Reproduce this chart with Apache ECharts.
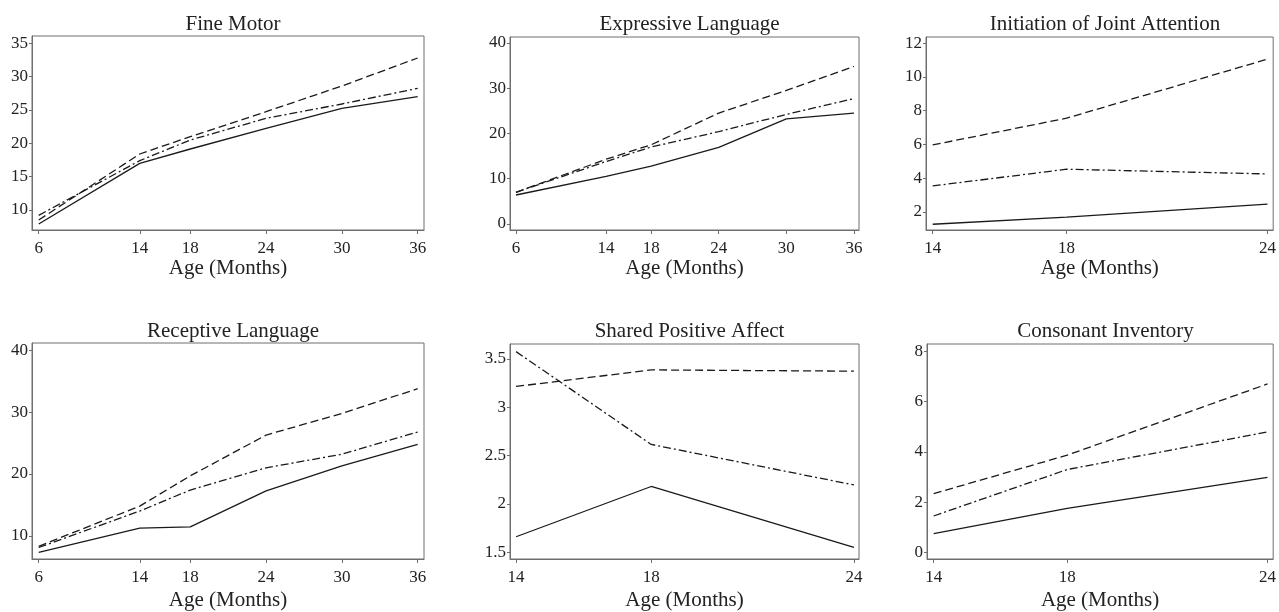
<!DOCTYPE html>
<html><head><meta charset="utf-8">
<script src="https://cdn.jsdelivr.net/npm/echarts@6/dist/echarts.min.js"></script>
<style>html,body{margin:0;padding:0;background:#fff}#c{width:1279px;height:612px}</style>
</head><body><div id="c"></div>
<script>
var agesLong = [6, 14, 18, 24, 30, 36];
var agesShort = [14, 18, 24];

var titles = ['Fine Motor', 'Expressive Language', 'Initiation of Joint Attention',
              'Receptive Language', 'Shared Positive Affect', 'Consonant Inventory'];

var fineSolid   = [7.9, 17.0, 19.15, 22.25, 25.25, 27.0];
var fineDashed  = [8.5, 18.4, 21.0, 24.75, 28.6, 32.8];
var fineDashDot = [9.2, 17.4, 20.5, 23.75, 25.9, 28.25];

var exprSolid   = [6.4, 10.5, 12.8, 16.9, 23.2, 24.5];
var exprDashed  = [7.0, 14.3, 17.5, 24.5, 29.5, 34.8];
var exprDashDot = [7.0, 13.8, 17.0, 20.4, 24.2, 27.7];

var ijaSolid   = [1.27, 1.69, 2.46];
var ijaDashed  = [5.97, 7.55, 11.05];
var ijaDashDot = [3.54, 4.53, 4.25];

var recSolid   = [7.3, 11.24, 11.45, 17.26, 21.3, 24.8];
var recDashed  = [8.3, 14.8, 19.7, 26.3, 29.8, 33.8];
var recDashDot = [8.1, 14.0, 17.4, 21.0, 23.2, 26.8];

var spaSolid   = [1.66, 2.18, 1.55];
var spaDashed  = [3.215, 3.386, 3.373];
var spaDashDot = [3.575, 2.615, 2.196];

var ciSolid   = [0.75, 1.75, 2.99];
var ciDashed  = [2.34, 3.87, 6.7];
var ciDashDot = [1.45, 3.3, 4.79];

var yTicks = [
  [10, 15, 20, 25, 30, 35],
  [0, 10, 20, 30, 40],
  [2, 4, 6, 8, 10, 12],
  [10, 20, 30, 40],
  [1.5, 2, 2.5, 3, 3.5],
  [0, 2, 4, 6, 8]
];

var panels = [
  {x: agesLong,  s: fineSolid, d: fineDashed, dd: fineDashDot},
  {x: agesLong,  s: exprSolid, d: exprDashed, dd: exprDashDot},
  {x: agesShort, s: ijaSolid,  d: ijaDashed,  dd: ijaDashDot},
  {x: agesLong,  s: recSolid,  d: recDashed,  dd: recDashDot},
  {x: agesShort, s: spaSolid,  d: spaDashed,  dd: spaDashDot},
  {x: agesShort, s: ciSolid,   d: ciDashed,   dd: ciDashDot}
];

// layout (pixels) and axis extents
var layout = [
  {left: 32,  top: 36,  width: 392, height: 194, xr: [5.47, 36.5],  yr: [7, 36.1]},
  {left: 510, top: 37,  width: 349, height: 193, xr: [5.47, 36.45], yr: [-1.33, 41.3]},
  {left: 926, top: 37,  width: 348, height: 193, xr: [13.8, 24.17], yr: [0.93, 12.36]},
  {left: 32,  top: 343, width: 392, height: 217, xr: [5.47, 36.5],  yr: [6.24, 41.2]},
  {left: 510, top: 344, width: 349, height: 216, xr: [13.82, 24.15], yr: [1.43, 3.654]},
  {left: 927, top: 344, width: 347, height: 216, xr: [13.8, 24.17], yr: [-0.26, 8.29]}
];

var FONT = '"Liberation Serif", "DejaVu Serif", serif';
var TXT = '#222';
var AX = '#6e6e6e';
var LINE = '#1a1a1a';

var grids = [], xAxes = [], yAxes = [], series = [], titleArr = [];
layout.forEach(function (L, i) {
  grids.push({left: L.left, top: L.top, width: L.width, height: L.height,
              show: true, borderColor: AX, borderWidth: 1, containLabel: false});
  titleArr.push({text: titles[i], left: L.left + L.width / 2, textAlign: 'center',
                 top: i < 3 ? 9 : 316,
                 textStyle: {fontFamily: FONT, fontSize: 21, fontWeight: 'normal', color: TXT}});
  var P = panels[i];
  xAxes.push({type: 'value', gridIndex: i, min: L.xr[0], max: L.xr[1],
    name: 'Age (Months)', nameLocation: 'middle', nameGap: i < 3 ? 28 : 31,
    nameTextStyle: {fontFamily: FONT, fontSize: 21, color: TXT},
    axisLine: {show: true, onZero: false, lineStyle: {color: AX}},
    axisTick: {show: true, length: 4, inside: false, customValues: P.x, lineStyle: {color: AX}},
    axisLabel: {customValues: P.x, fontFamily: FONT, fontSize: 17, color: TXT, margin: 10},
    splitLine: {show: false}});
  yAxes.push({type: 'value', gridIndex: i, min: L.yr[0], max: L.yr[1],
    axisLine: {show: true, onZero: false, lineStyle: {color: AX}},
    axisTick: {show: true, length: 3, customValues: yTicks[i], lineStyle: {color: AX}},
    axisLabel: {customValues: yTicks[i], fontFamily: FONT, fontSize: 17, color: TXT, margin: 4},
    splitLine: {show: false}});
  function mk(vals, type) {
    return {type: 'line', xAxisIndex: i, yAxisIndex: i, symbol: 'none', silent: true,
      data: P.x.map(function (a, k) { return [a, vals[k]]; }),
      lineStyle: {color: LINE, width: 1.3, type: type}};
  }
  series.push(mk(P.s, 'solid'));
  series.push(mk(P.d, [8, 4]));
  series.push(mk(P.dd, [8, 3, 2, 3]));
});

var chart = echarts.init(document.getElementById('c'), null, {renderer: 'canvas'});
chart.setOption({
  animation: false,
  backgroundColor: '#fff',
  title: titleArr,
  grid: grids,
  xAxis: xAxes,
  yAxis: yAxes,
  series: series
});
</script></body></html>
